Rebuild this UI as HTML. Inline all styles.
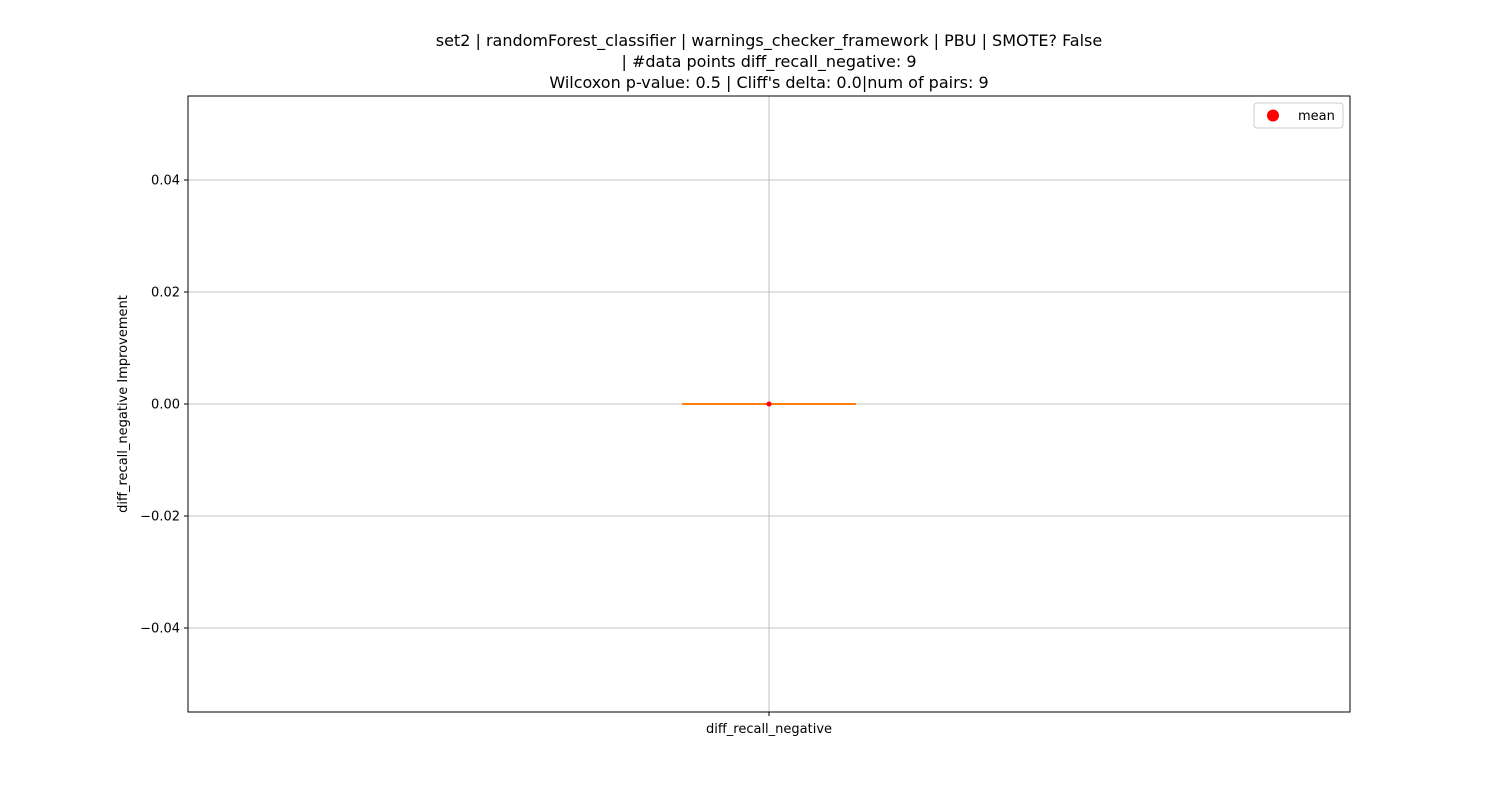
<!DOCTYPE html>
<html><head><meta charset="utf-8"><style>body{margin:0;background:#fff}svg{display:block;font-family:"DejaVu Sans","Liberation Sans",sans-serif}</style></head>
<body>
<svg id="c" width="1500" height="800">
<rect width="1500" height="800" fill="#fff"/>
<g font-size="16" text-anchor="middle" fill="#000">
<text x="769" y="46">set2 | randomForest_classifier | warnings_checker_framework | PBU | SMOTE? False</text>
<text x="769" y="67">| #data points diff_recall_negative: 9</text>
<text x="769" y="88">Wilcoxon p-value: 0.5 | Cliff's delta: 0.0|num of pairs: 9</text>
</g>
<g id="grid"></g><g id="marks"></g>
<rect x="188" y="96" width="1162" height="616" fill="none" stroke="#000" stroke-width="1"/>
<text x="127" y="404" font-size="13" text-anchor="middle" transform="rotate(-90 127 404)">diff_recall_negative Improvement</text>
<g>
<rect x="1254" y="103" width="89" height="25" rx="3" fill="#fff" stroke="#ccc"/>
<circle cx="1273" cy="115.5" r="6" fill="red"/>
<text x="1298" y="120" font-size="13">mean</text>
</g>
</svg>
<script>
const categories=["diff_recall_negative"];
const q1=[0],q3=[0],median=[0],whiskLo=[0],whiskHi=[0],means=[0];
const yTicks=[-0.04,-0.02,0,0.02,0.04];
const yLabels=["\u22120.04","\u22120.02","0.00","0.02","0.04"];
const NS="http://www.w3.org/2000/svg";
const X0=188,X1=1350,Y0=96,Y1=712,yMin=-0.055,yMax=0.055;
const y=v=>Y1-(v-yMin)/(yMax-yMin)*(Y1-Y0);
const x=i=>X0+(i+0.5)*(X1-X0)/categories.length;
function mk(t,a,p){const e=document.createElementNS(NS,t);for(const k in a)e.setAttribute(k,a[k]);p.appendChild(e);return e;}
const g=document.getElementById('grid'),m=document.getElementById('marks'),s=document.getElementById('c');
yTicks.forEach((t,i)=>{
 const l=mk('line',{x1:X0,x2:X1,y1:y(t),y2:y(t),stroke:'#b0b0b0','stroke-width':0.8},g);
 
 
 mk('line',{x1:X0-4,x2:X0,y1:y(t),y2:y(t),stroke:'#000'},s);
 const tx=mk('text',{x:X0-8,y:y(t)+4.5,'font-size':13,'text-anchor':'end'},s);tx.textContent=yLabels[i];
 
 
});
categories.forEach((c,i)=>{
 const cx=x(i);
 const gl=mk('line',{x1:cx,x2:cx,y1:Y0,y2:Y1,stroke:'#b0b0b0','stroke-width':0.8},g);
 
 
 mk('line',{x1:cx,x2:cx,y1:Y1,y2:Y1+4,stroke:'#000'},s);
 const tx=mk('text',{x:cx,y:Y1+21,'font-size':13,'text-anchor':'middle'},s);tx.textContent=c;
 
 
 const bw=88,cw=174;
 mk('line',{x1:cx,x2:cx,y1:y(whiskLo[i]),y2:y(q1[i]),stroke:'#000'},m);
 mk('line',{x1:cx,x2:cx,y1:y(q3[i]),y2:y(whiskHi[i]),stroke:'#000'},m);
 mk('line',{x1:cx-cw/2,x2:cx+cw/2,y1:y(whiskLo[i]),y2:y(whiskLo[i]),stroke:'#000'},m);
 mk('line',{x1:cx-cw/2,x2:cx+cw/2,y1:y(whiskHi[i]),y2:y(whiskHi[i]),stroke:'#000'},m);
 const b=mk('rect',{x:cx-bw/2,y:y(q3[i])-0.5,width:bw,height:Math.max(1,y(q1[i])-y(q3[i])),fill:'none',stroke:'#000'},m);
 
 
 const md=mk('line',{x1:cx-cw/2,x2:cx+cw/2,y1:y(median[i]),y2:y(median[i]),stroke:'#ff7f0e','stroke-width':2},m);
 
 
 const mn=mk('circle',{cx:cx,cy:y(means[i]),r:2.5,fill:'red'},m);
 
 
});
</script>
</body></html>
